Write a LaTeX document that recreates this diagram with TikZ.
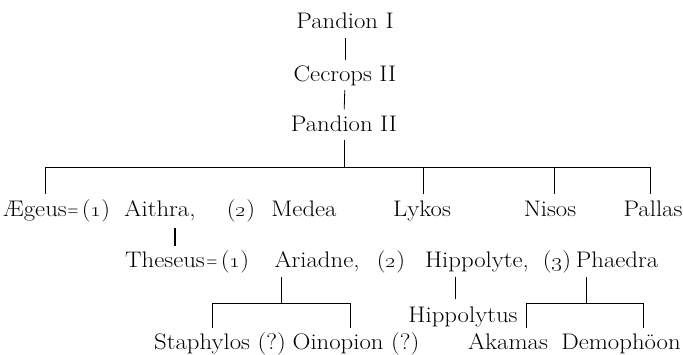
\documentclass[tikz,border=0pt]{standalone}
\usepackage{graphicx}
\newcommand\myeq{\scalebox{0.65}[1]{$=$}}
\newcommand\osn[1]{(\oldstylenums{#1})}
\begin{document}
\begin{tikzpicture}[x=1pt,y=-1pt,
  nm/.style={inner sep=0pt, text height=15.5pt, text depth=0pt, anchor=base,
    font=\fontsize{22.5}{26}\selectfont, xscale=1.1, transform shape},
  ln/.style={line width=0.8pt},
  thickln/.style={line width=2.2pt}]
\useasboundingbox[fill=white] (0,0) rectangle (683,355);
% ancestors
\node[nm] (p1) at (345,29) {Pandion I};
\node[nm] (c2) at (345,82) {Cecrops II};
\node[nm] (p2) at (344,132) {Pandion II};
\draw[ln, shorten <=9pt, shorten >=6pt] (p1.south) -- (c2.north);
\draw[ln, shorten <=8pt, shorten >=7pt] (c2.south) -- (p2.north);
% bar of the children of Pandion II
\coordinate (bl) at (45,167);
\coordinate (br) at (650,167);
\coordinate (bly) at (423,167);
\coordinate (bni) at (554,167);
\draw[ln, shorten <=8pt] (p2.south) -- (p2.south |- bl);
\draw[ln] (bl) -- (br);
% children row
\node[nm] (aeg) at (35,217) {Ægeus};
\node[nm] (eq1) at (73,217) {\myeq};
\node[nm] (n1) at (96,217) {\osn{1}};
\node[nm] (aith) at (160,217) {Aithra,};
\node[nm] (n2) at (241,217) {\osn{2}};
\node[nm] (med) at (304,217) {Medea};
\node[nm] (lyk) at (422,217) {Lykos};
\node[nm] (nis) at (550,217) {Nisos};
\node[nm] (pal) at (653,217) {Pallas};
\draw[ln, shorten >=7pt] (bl) -- (bl |- aeg.north);
\draw[ln, shorten >=7pt] (bly) -- (bly |- lyk.north);
\draw[ln, shorten >=7pt] (bni) -- (bni |- nis.north);
\draw[ln, shorten >=7pt] (br) -- (br |- pal.north);
% Theseus row
\node[nm] (thes) at (165,268) {Theseus};
\node[nm] (eq2) at (212,268) {\myeq};
\node[nm] (m1) at (235,268) {\osn{1}};
\node[nm] (ari) at (317,268) {Ariadne,};
\node[nm] (m2) at (391,268) {\osn{2}};
\node[nm] (hip) at (477,268) {Hippolyte,};
\node[nm] (m3) at (557,268) {\osn{3}};
\node[nm] (pha) at (617,268) {Phaedra};
\coordinate (tA) at (175,217);
\draw[thickln, shorten <=11pt, shorten >=6pt] (tA) -- (tA |- thes.north);
% grandchildren
\node[nm] (hus) at (463,323) {Hippolytus};
\node[nm] (sta) at (220,349) {Staphylos (?)};
\node[nm] (oin) at (356,349) {Oinopion (?)};
\node[nm] (aka) at (508,349) {Akamas};
\node[nm] (dem) at (621,349) {Demophöon};
% Ariadne's children
\coordinate (abL) at (212,303);
\coordinate (abC) at (281,303);
\coordinate (abR) at (350,303);
\draw[ln] (abL) -- (abR);
\draw[ln, shorten <=9pt] (abC |- ari.south) -- (abC);
\draw[ln, shorten >=5pt] (abL) -- (abL |- sta.north);
\draw[ln, shorten >=5pt] (abR) -- (abR |- oin.north);
% Hippolyte's son
\coordinate (hd) at (455,268);
\draw[ln, shorten <=9pt, shorten >=8pt] (hd) -- (hd |- hus.north);
% Phaedra's children
\coordinate (pbL) at (526,303);
\coordinate (pbC) at (586,303);
\coordinate (pbR) at (643,303);
\draw[ln] (pbL) -- (pbR);
\draw[ln, shorten <=9pt] (pbC |- pha.south) -- (pbC);
\draw[ln, shorten >=5pt] (pbL) -- (pbL |- aka.north);
\draw[ln, shorten >=5pt] (pbR) -- (pbR |- dem.north);
\end{tikzpicture}
\end{document}
